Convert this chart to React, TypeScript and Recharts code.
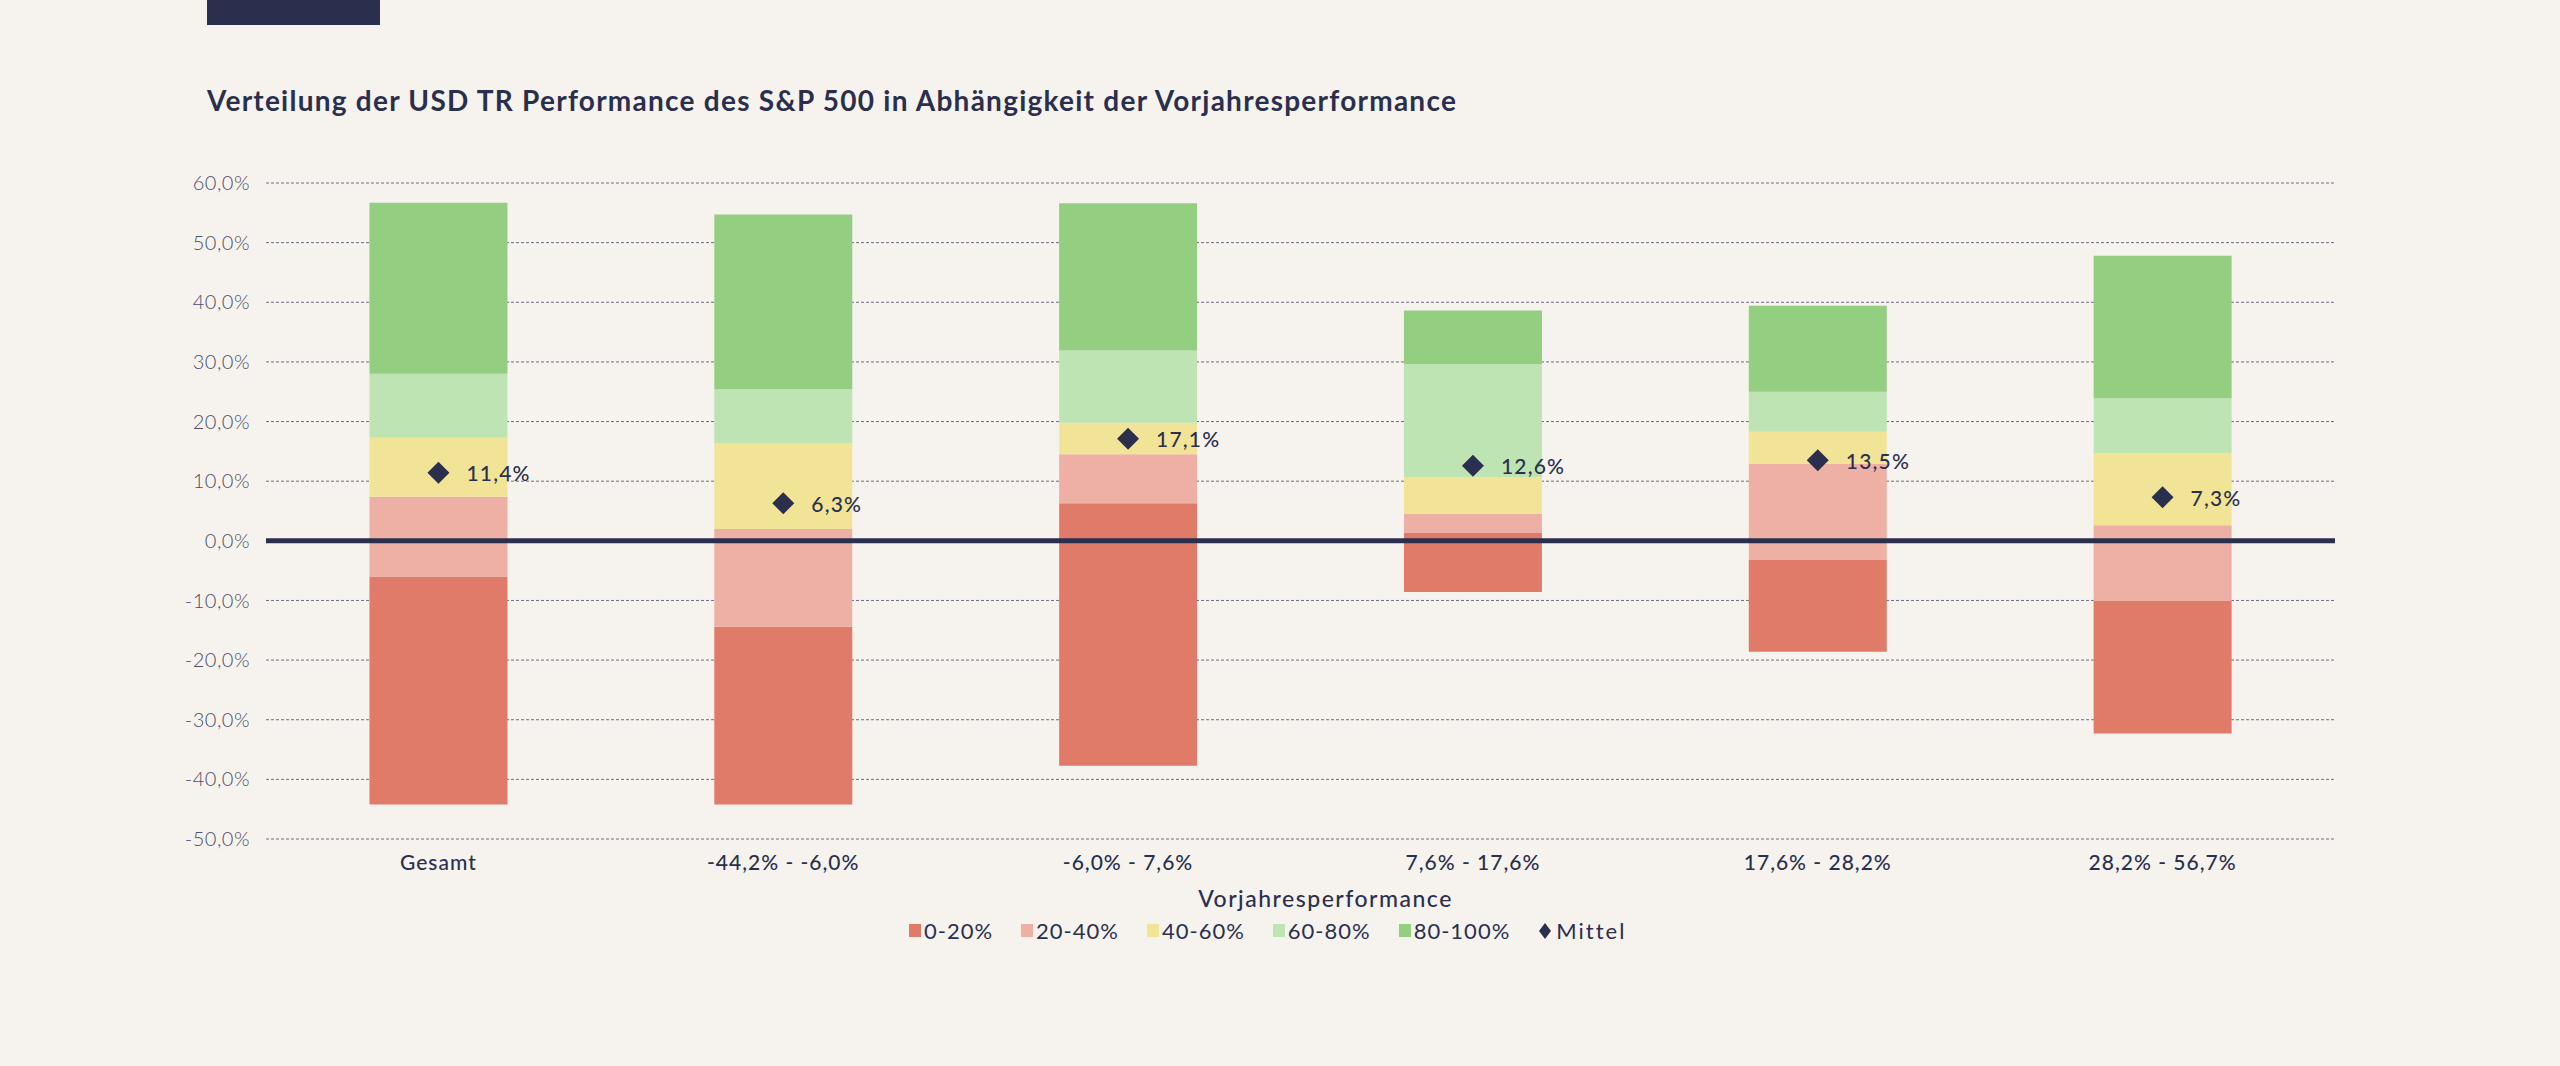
import {
  Bar,
  CartesianGrid,
  ComposedChart,
  LabelList,
  Line,
  ReferenceLine,
  XAxis,
  YAxis
} from "recharts";

// Vorjahresperformance buckets
const categories = [
  "Gesamt",
  "-44,2% - -6,0%",
  "-6,0% - 7,6%",
  "7,6% - 17,6%",
  "17,6% - 28,2%",
  "28,2% - 56,7%"
];

// percentile boundaries of the following-year performance (in %)
const minValues = [-44.2, -44.2, -37.7, -8.6, -18.6, -32.3];
const p20Values = [-6.0, -14.4, 6.3, 1.3, -3.2, -10.1];
const p40Values = [7.4, 2.0, 14.5, 4.5, 12.9, 2.6];
const p60Values = [17.3, 16.4, 19.8, 10.7, 18.3, 14.7];
const p80Values = [28.0, 25.4, 31.9, 29.6, 25.0, 23.9];
const maxValues = [56.7, 54.7, 56.6, 38.6, 39.4, 47.8];
const meanValues = [11.4, 6.3, 17.1, 12.6, 13.5, 7.3];

const yTicks = [-50, -40, -30, -20, -10, 0, 10, 20, 30, 40, 50, 60];

const segments = [
  { key: "s0", name: "0-20%", color: "#e07b69" },
  { key: "s1", name: "20-40%", color: "#eeb0a5" },
  { key: "s2", name: "40-60%", color: "#f2e497" },
  { key: "s3", name: "60-80%", color: "#bee4b3" },
  { key: "s4", name: "80-100%", color: "#93ce81" }
];

const NAVY = "#2b2f4e";
const BG = "#f6f3ee";
const FONT = "Lato, 'Open Sans', sans-serif";

const data = categories.map((name, i) => ({
  name,
  base: minValues[i],
  s0: p20Values[i] - minValues[i],
  s1: p40Values[i] - p20Values[i],
  s2: p60Values[i] - p40Values[i],
  s3: p80Values[i] - p60Values[i],
  s4: maxValues[i] - p80Values[i],
  mean: meanValues[i]
}));

const pct = (v: number) => v.toFixed(1).replace(".", ",") + "%";

function Diamond(props: any) {
  const { cx, cy, index } = props;
  if (cx == null || cy == null) return <g key={index} />;
  const r = 11;
  return (
    <path
      key={index}
      d={`M${cx},${cy - r} L${cx + r},${cy} L${cx},${cy + r} L${cx - r},${cy} Z`}
      fill={NAVY}
    />
  );
}

function MeanLabel(props: any) {
  const { x, y, value } = props;
  return (
    <text
      x={x + 28}
      y={y}
      dominantBaseline="central"
      fill={NAVY}
      fontSize={21}
      fontWeight={500}
      fontFamily={FONT}
      letterSpacing={1.2}
    >
      {pct(value)}
    </text>
  );
}

function ChartLegend() {
  return (
    <div
      style={{
        position: "absolute",
        left: 909,
        top: 917,
        display: "flex",
        alignItems: "center",
        gap: 28,
        fontFamily: FONT,
        fontSize: 22,
        letterSpacing: 1,
        color: NAVY
      }}
    >
      {segments.map((s) => (
        <div key={s.key} style={{ display: "flex", alignItems: "center", gap: 3 }}>
          <span style={{ width: 12, height: 13, background: s.color, display: "inline-block" }} />
          <span>{s.name}</span>
        </div>
      ))}
      <div style={{ display: "flex", alignItems: "center", gap: 4 }}>
        <svg width={14} height={18}>
          <path d="M7,1 L13,9 L7,17 L1,9 Z" fill={NAVY} />
        </svg>
        <span style={{ letterSpacing: 2 }}>Mittel</span>
      </div>
    </div>
  );
}

export default function App() {
  return (
    <div
      style={{
        position: "absolute",
        left: 0,
        top: 0,
        width: 2560,
        height: 1066,
        background: BG,
        overflow: "hidden"
      }}
    >
      <div style={{ position: "absolute", left: 207, top: 0, width: 173, height: 25, background: NAVY }} />
      <div
        style={{
          position: "absolute",
          left: 207,
          top: 83,
          fontFamily: FONT,
          fontWeight: 700,
          fontSize: 28,
          letterSpacing: 1.25,
          color: NAVY,
          whiteSpace: "nowrap"
        }}
      >
        Verteilung der USD TR Performance des S&amp;P 500 in Abhängigkeit der Vorjahresperformance
      </div>

      <ComposedChart
        width={2560}
        height={1066}
        data={data}
        margin={{ top: 183, right: 225, bottom: 157, left: 0 }}
        barCategoryGap="30%"
        style={{ position: "absolute", left: 0, top: 0 }}
      >
        <CartesianGrid
          vertical={false}
          stroke="#6a6d84"
          strokeWidth={1}
          strokeDasharray="3 2"
        />
        <XAxis
          dataKey="name"
          axisLine={false}
          tickLine={false}
          height={70}
          tickMargin={10}
          tick={{ fill: NAVY, fontSize: 21, fontFamily: FONT, fontWeight: 500, letterSpacing: 1 }}
          label={{
            value: "Vorjahresperformance",
            position: "insideBottom",
            offset: 2,
            dx: 25,
            fill: NAVY,
            fontSize: 23,
            fontFamily: FONT,
            fontWeight: 500,
            letterSpacing: 1.5
          }}
        />
        <YAxis
          domain={[-50, 60]}
          ticks={yTicks}
          interval={0}
          width={266}
          axisLine={false}
          tickLine={false}
          tickMargin={10}
          tickFormatter={pct}
          tick={{ fill: "#4d5068", fontSize: 20, fontFamily: FONT, fontWeight: 300, letterSpacing: 0.5 }}
        />
        <Bar dataKey="base" stackId="a" fill="transparent" isAnimationActive={false} legendType="none" />
        {segments.map((s) => (
          <Bar
            key={s.key}
            dataKey={s.key}
            name={s.name}
            stackId="a"
            fill={s.color}
            isAnimationActive={false}
          />
        ))}
        <ReferenceLine y={0} stroke={NAVY} strokeWidth={5} />
        <Line
          dataKey="mean"
          name="Mittel"
          stroke="none"
          dot={Diamond}
          activeDot={false}
          isAnimationActive={false}
        >
          <LabelList dataKey="mean" content={MeanLabel} />
        </Line>
      </ComposedChart>

      <ChartLegend />
    </div>
  );
}
